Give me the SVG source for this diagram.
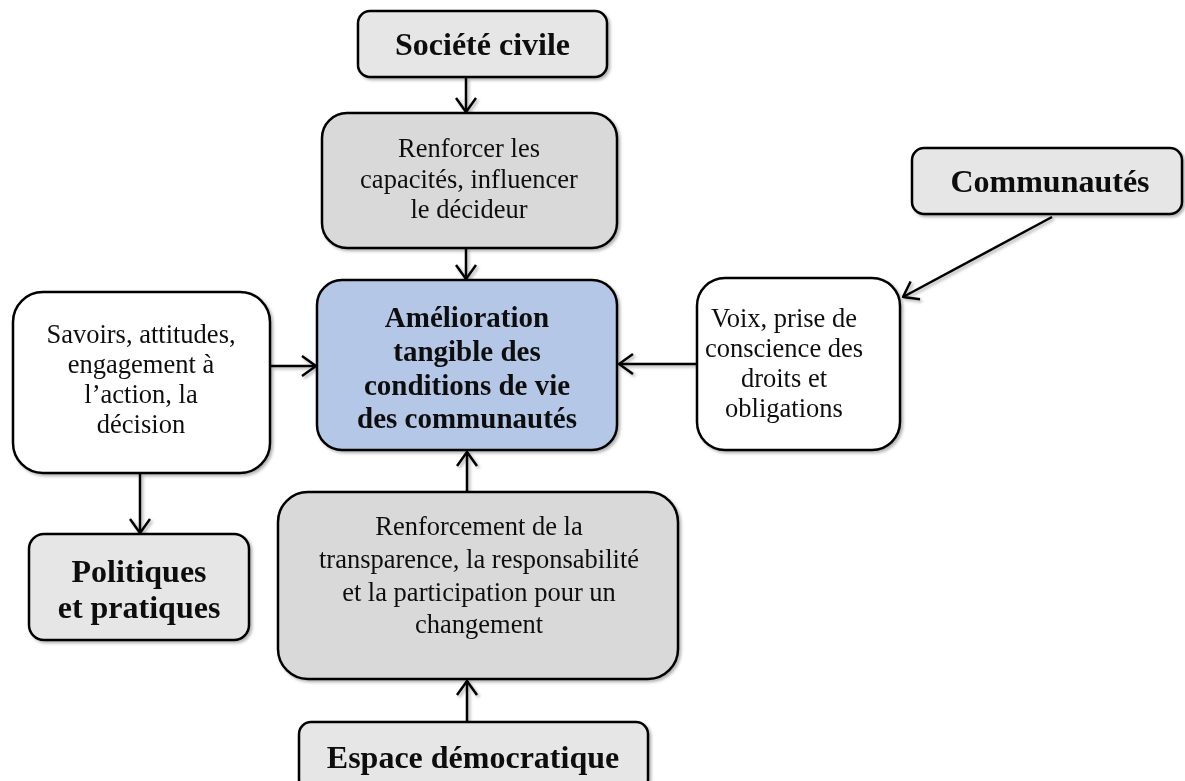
<svg xmlns="http://www.w3.org/2000/svg" width="1185" height="781" viewBox="0 0 1185 781">
<style>
.box{stroke:#000;stroke-width:2.5}
.g1{fill:#e6e6e6}
.g2{fill:#d9d9d9}
.w{fill:#fff}
.b{fill:#b4c7e7}
.t{font-family:"Liberation Serif","Times New Roman",serif;font-size:26.5px;fill:#111;text-anchor:middle}
.tb{font-family:"Liberation Serif","Times New Roman",serif;font-size:32px;font-weight:bold;fill:#111;text-anchor:middle}
.tc{font-family:"Liberation Serif","Times New Roman",serif;font-size:29px;font-weight:bold;fill:#111;text-anchor:middle}
.c{stroke:#000;stroke-width:2.5;fill:none;marker-end:url(#arr)}
</style>
<defs>
<filter id="sh" x="-10%" y="-10%" width="130%" height="130%">
<feDropShadow dx="2" dy="2" stdDeviation="1.5" flood-color="#000" flood-opacity="0.3"/>
</filter>
<marker id="arr" viewBox="0 0 16 22" refX="15" refY="11" markerWidth="16" markerHeight="22" markerUnits="userSpaceOnUse" orient="auto">
<path d="M1,1 L15,11 L1,21" fill="none" stroke="#000" stroke-width="2.5"/>
</marker>
</defs>
<g id="connectors" filter="url(#sh)">
<line class="c" x1="466" y1="78" x2="466" y2="112"/>
<line class="c" x1="466" y1="249" x2="466" y2="279"/>
<line class="c" x1="271" y1="366" x2="316" y2="366"/>
<line class="c" x1="697" y1="364" x2="619" y2="364"/>
<line class="c" x1="1052" y1="217" x2="903" y2="297"/>
<line class="c" x1="140" y1="474" x2="140" y2="533"/>
<line class="c" x1="467" y1="491" x2="467" y2="452"/>
<line class="c" x1="467" y1="721" x2="467" y2="681"/>
</g>
<g id="societe-civile" filter="url(#sh)">
<rect class="box g1" x="358" y="11" width="249" height="66" rx="12"/>
<text class="tb" x="482.5" y="55">Société civile</text>
</g>
<g id="renforcer" filter="url(#sh)">
<rect class="box g2" x="322" y="113" width="295" height="135" rx="25"/>
<text class="t" x="469" y="157">Renforcer les</text>
<text class="t" x="469" y="188">capacités, influencer</text>
<text class="t" x="469" y="218">le décideur</text>
</g>
<g id="amelioration" filter="url(#sh)">
<rect class="box b" x="317" y="280" width="300" height="170" rx="25"/>
<text class="tc" x="467" y="327">Amélioration</text>
<text class="tc" x="467" y="361">tangible des</text>
<text class="tc" x="467" y="395">conditions de vie</text>
<text class="tc" x="467" y="428">des communautés</text>
</g>
<g id="savoirs" filter="url(#sh)">
<rect class="box w" x="13" y="292" width="257" height="181" rx="30"/>
<text class="t" x="141" y="343">Savoirs, attitudes,</text>
<text class="t" x="141" y="373">engagement à</text>
<text class="t" x="141" y="403">l’action, la</text>
<text class="t" x="141" y="433">décision</text>
</g>
<g id="politiques" filter="url(#sh)">
<rect class="box g1" x="29" y="534" width="220" height="106" rx="15"/>
<text class="tb" x="139" y="582">Politiques</text>
<text class="tb" x="139" y="618">et pratiques</text>
</g>
<g id="communautes" filter="url(#sh)">
<rect class="box g1" x="912" y="148" width="270" height="66" rx="12"/>
<text class="tb" x="1050" y="192">Communautés</text>
</g>
<g id="voix" filter="url(#sh)">
<rect class="box w" x="697" y="278" width="203" height="172" rx="28"/>
<text class="t" x="784" y="327">Voix, prise de</text>
<text class="t" x="784" y="357">conscience des</text>
<text class="t" x="784" y="387">droits et</text>
<text class="t" x="784" y="417">obligations</text>
</g>
<g id="renforcement" filter="url(#sh)">
<rect class="box g2" x="278" y="492" width="400" height="187" rx="30"/>
<text class="t" x="479" y="535">Renforcement de la</text>
<text class="t" x="479" y="568">transparence, la responsabilité</text>
<text class="t" x="479" y="601">et la participation pour un</text>
<text class="t" x="479" y="633">changement</text>
</g>
<g id="espace" filter="url(#sh)">
<rect class="box g1" x="299" y="722" width="349" height="70" rx="12"/>
<text class="tb" x="473" y="768">Espace démocratique</text>
</g>
</svg>
